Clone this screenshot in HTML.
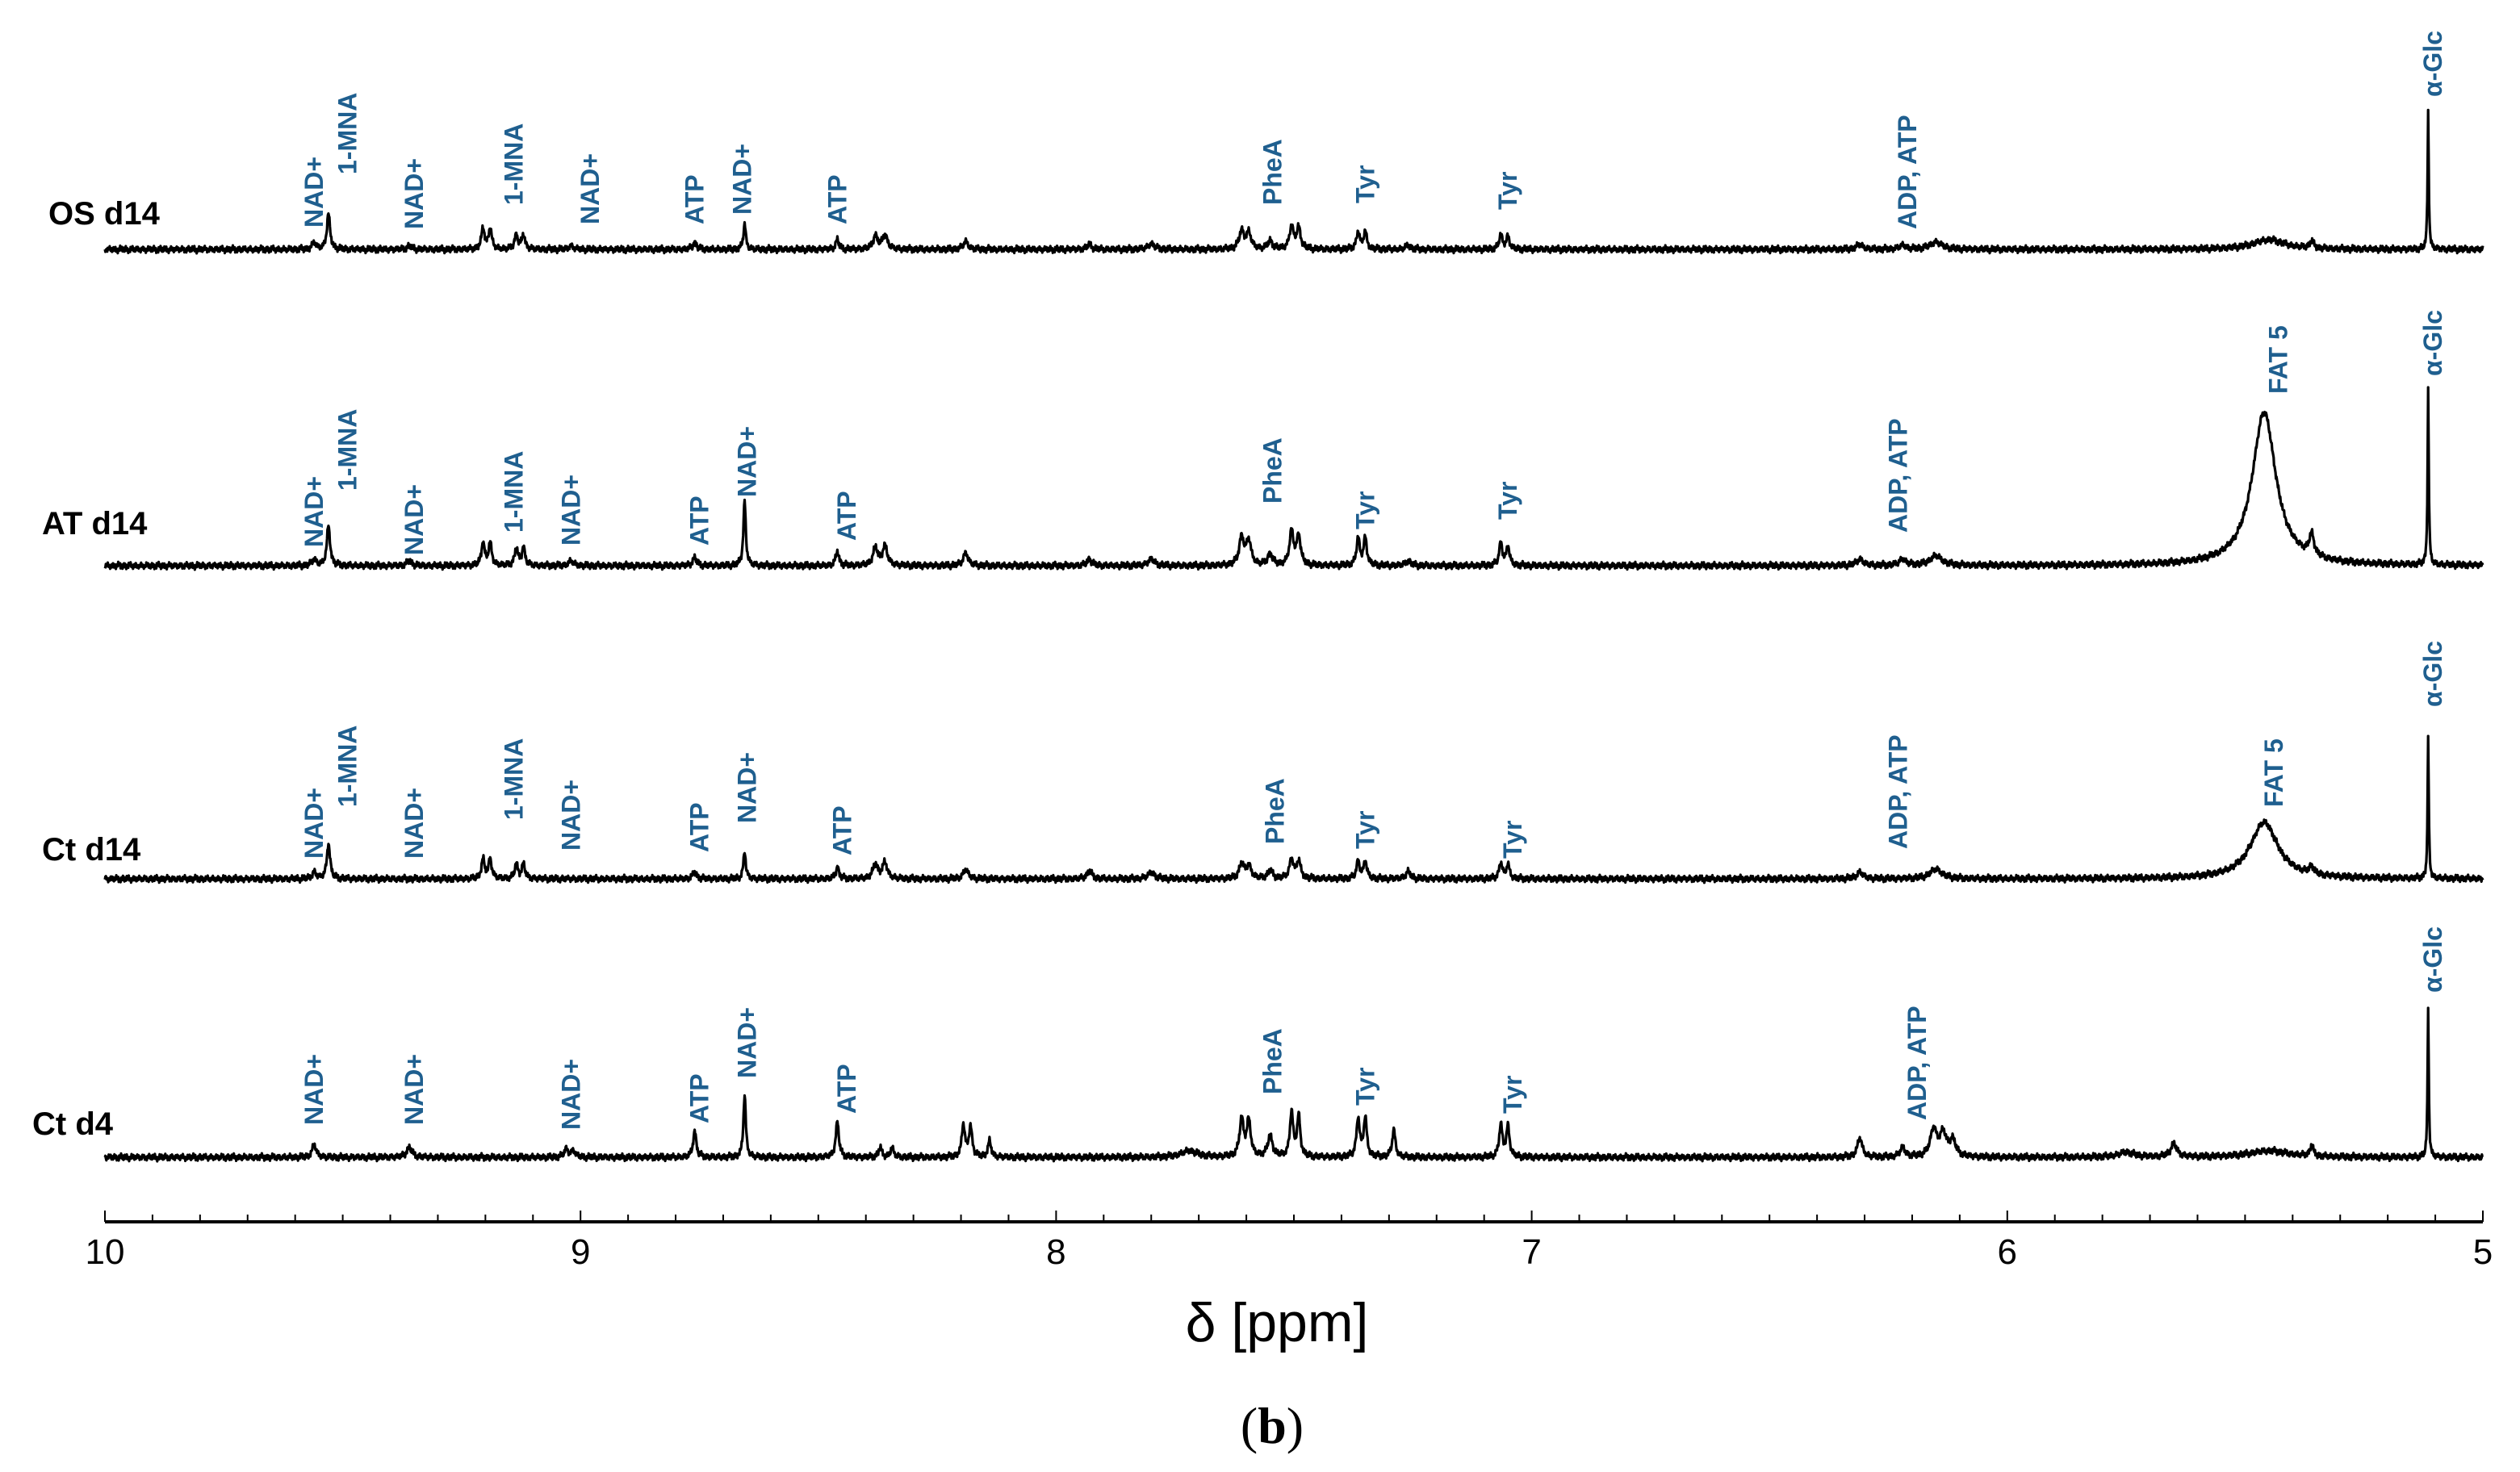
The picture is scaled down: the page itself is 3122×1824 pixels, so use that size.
<!DOCTYPE html>
<html><head><meta charset="utf-8"><style>
html,body{margin:0;padding:0;background:#fff;}
svg{display:block;}
.rl{font-family:"Liberation Sans",Arial,sans-serif;font-weight:bold;font-size:40px;fill:#000;}
.an{font-family:"Liberation Sans",Arial,sans-serif;font-weight:bold;font-size:32px;fill:#1f5f8f;}
.tk{font-family:"Liberation Sans",Arial,sans-serif;font-size:44px;fill:#000;}
</style></head><body>
<svg id="chart" width="3122" height="1824" viewBox="0 0 3122 1824"></svg>
<script>
// ---- data (ppm, height in px, half-width in ppm) ----
const rowNames = ["OS  d14","AT  d14","Ct  d14","Ct  d4"];
const baselines = [309, 701, 1089, 1434];
const peaksOS = [[9.56,8,.005],[9.53,44,.004],[9.36,4,.006],[9.205,26,.004],[9.19,26,.004],[9.135,18,.004],[9.12,18,.004],[9.02,4,.006],[8.76,8,.005],[8.655,32,.003],[8.46,12,.004],[8.38,16,.006],[8.36,18,.006],[8.19,10,.006],[7.93,6,.006],[7.80,7,.008],[7.61,22,.006],[7.595,20,.006],[7.55,10,.006],[7.505,28,.005],[7.49,26,.005],[7.365,22,.004],[7.35,22,.004],[7.26,5,.006],[7.065,18,.004],[7.05,16,.004],[6.31,6,.008],[6.22,5,.008],[6.15,9,.015],[5.45,12,.04],[5.36,9,.005],[5.115,172,.0015]];
const peaksAT = [[9.56,8,.005],[9.53,50,.004],[9.36,6,.006],[9.205,28,.004],[9.19,28,.004],[9.135,22,.004],[9.12,22,.004],[9.02,6,.006],[8.76,10,.005],[8.655,80,.003],[8.46,18,.004],[8.38,22,.006],[8.36,24,.006],[8.19,16,.006],[7.93,8,.006],[7.80,8,.008],[7.61,34,.006],[7.595,30,.006],[7.55,14,.006],[7.505,42,.005],[7.49,36,.005],[7.365,34,.004],[7.35,34,.004],[7.26,6,.006],[7.065,28,.004],[7.05,24,.004],[6.31,8,.008],[6.22,8,.008],[6.15,12,.015],[5.46,190,.03],[5.36,26,.006],[5.115,220,.0015]];
const peaksCt14 = [[9.56,8,.005],[9.53,44,.004],[9.205,24,.004],[9.19,24,.004],[9.135,18,.004],[9.12,18,.004],[8.76,8,.005],[8.655,34,.003],[8.46,14,.004],[8.38,18,.006],[8.36,20,.006],[8.19,12,.006],[7.93,10,.006],[7.80,8,.008],[7.61,18,.006],[7.595,16,.006],[7.55,10,.006],[7.505,24,.005],[7.49,22,.005],[7.365,22,.004],[7.35,22,.004],[7.26,9,.006],[7.065,20,.004],[7.05,18,.004],[6.31,8,.008],[6.15,12,.015],[5.46,70,.035],[5.36,10,.005],[5.115,176,.0015]];
const peaksCt4 = [[9.56,16,.005],[9.36,12,.007],[9.03,10,.005],[9.015,8,.005],[8.76,32,.004],[8.655,78,.003],[8.46,44,.004],[8.37,12,.004],[8.345,12,.004],[8.195,40,.004],[8.18,38,.004],[8.14,20,.004],[7.72,8,.02],[7.61,46,.005],[7.595,44,.005],[7.55,26,.006],[7.505,56,.004],[7.49,50,.004],[7.365,48,.004],[7.35,48,.004],[7.29,34,.004],[7.065,40,.004],[7.05,38,.004],[6.31,24,.006],[6.22,12,.006],[6.155,34,.008],[6.135,28,.008],[6.115,20,.008],[5.75,6,.02],[5.65,16,.008],[5.45,8,.05],[5.36,14,.004],[5.115,188,.0015]];
const allPeaks = [peaksOS, peaksAT, peaksCt14, peaksCt4];
const tickLabels = ["10","9","8","7","6","5"];
const tickValues = [10,9,8,7,6,5];
// annotations: [text, ppm, bottom y (px)]
const annOS = [["NAD+",9.56,282],["1-MNA",9.49,216],["NAD+",9.35,284],["1-MNA",9.14,254],["NAD+",8.98,278],["ATP",8.76,278],["NAD+",8.66,266],["ATP",8.46,278],["PheA",7.545,254],["Tyr",7.35,252],["Tyr",7.05,260],["ADP, ATP",6.21,284],["α-Glc",5.105,120]];
const annAT = [["NAD+",9.56,678],["1-MNA",9.49,608],["NAD+",9.35,688],["1-MNA",9.14,660],["NAD+",9.02,676],["ATP",8.75,676],["NAD+",8.65,616],["ATP",8.44,670],["PheA",7.545,624],["Tyr",7.35,656],["Tyr",7.05,644],["ADP, ATP",6.23,660],["FAT 5",5.43,488],["α-Glc",5.105,466]];
const annCt14 = [["NAD+",9.56,1064],["1-MNA",9.49,1000],["NAD+",9.35,1064],["1-MNA",9.14,1016],["NAD+",9.02,1054],["ATP",8.75,1056],["NAD+",8.65,1020],["ATP",8.45,1060],["PheA",7.54,1046],["Tyr",7.35,1052],["Tyr",7.04,1064],["ADP, ATP",6.23,1052],["FAT 5",5.44,1000],["α-Glc",5.105,876]];
const annCt4 = [["NAD+",9.56,1394],["NAD+",9.35,1394],["NAD+",9.02,1400],["ATP",8.75,1392],["NAD+",8.65,1336],["ATP",8.44,1380],["PheA",7.545,1356],["Tyr",7.35,1370],["Tyr",7.04,1380],["ADP, ATP",6.19,1388],["α-Glc",5.105,1230]];
const allAnn = [annOS, annAT, annCt14, annCt4];

// ---- axis ----
const X0 = 130, X1 = 3076, AXIS_Y = 1514;
const xScale = p => X0 + (10 - p) / 5 * (X1 - X0);
const NS = "http://www.w3.org/2000/svg";
const svg = document.getElementById('chart');
function mk(tag, attrs, parent) {
  const e = document.createElementNS(NS, tag);
  for (const k in attrs) e.setAttribute(k, attrs[k]);
  (parent || svg).appendChild(e);
  return e;
}

// spectra
allPeaks.forEach((peaks, r) => {
  const g = mk('g', {});
  
  
  const b = baselines[r];
  let d = '';
  for (let i = 0; i <= 5000; i++) {
    const p = 10 - i * 0.001;
    let y = 0;
    for (const pk of peaks) { const t = (p - pk[0]) / pk[2]; y += pk[1] / (1 + t * t); }
    const w = 2.2 * Math.sin(i * 1.7 + r) + 1.6 * Math.sin(i * 0.53 + 2 * r) + 1.2 * Math.sin(i * 3.1);
    d += (i ? 'L' : 'M') + xScale(p).toFixed(1) + ' ' + (b - y + w).toFixed(1);
  }
  const path = mk('path', {d: d, fill: 'none', stroke: '#000', 'stroke-width': 3.2, 'stroke-linejoin': 'round'}, g);
  
  
  const lbl = mk('text', {x: r === 3 ? 40 : (r === 0 ? 60 : 52), y: [278, 662, 1066, 1406][r], class: 'rl'}, g);
  
  
  lbl.setAttribute('xml:space', 'preserve');
  lbl.textContent = rowNames[r];
  allAnn[r].forEach(a => {
    const x = xScale(a[1]) + 11;
    const t = mk('text', {x: x, y: a[2], class: 'an', transform: 'rotate(-90 ' + x + ' ' + a[2] + ')'}, g);
    
    
    t.textContent = a[0];
  });
});

// x axis
const ax = mk('g', {});


const axl = mk('line', {x1: X0, x2: X1, y1: AXIS_Y, y2: AXIS_Y, stroke: '#000', 'stroke-width': 4}, ax);


for (let i = 0; i <= 50; i++) {
  const p = 10 - i * 0.1, x = xScale(p), major = i % 10 === 0;
  const tl = mk('line', {x1: x, x2: x, y1: AXIS_Y, y2: AXIS_Y - (major ? 14 : 9), stroke: '#000', 'stroke-width': 2}, ax);
  
  
}
tickValues.forEach((v, i) => {
  const t = mk('text', {x: xScale(v), y: 1566, 'text-anchor': 'middle', class: 'tk'}, ax);
  
  
  t.textContent = tickLabels[i];
});
const xt = mk('text', {x: 1582, y: 1662, 'text-anchor': 'middle', 'font-family': '"Liberation Sans",Arial,sans-serif', 'font-size': 68}, ax);


xt.textContent = 'δ [ppm]';
const cap = mk('text', {x: 1576, y: 1788, 'text-anchor': 'middle', 'font-family': '"Liberation Serif","Times New Roman",serif', 'font-size': 64}, svg);


cap.innerHTML = '(<tspan font-weight="bold">b</tspan>)';
</script>
</body></html>
